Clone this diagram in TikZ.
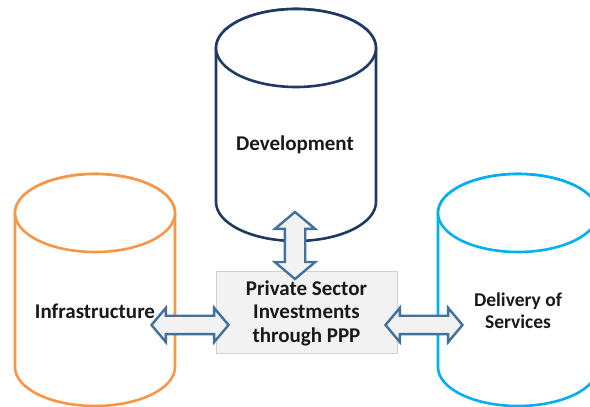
\documentclass[tikz,border=0pt]{standalone}
\usepackage{fontspec}
\setmainfont{Carlito}
\usetikzlibrary{calc,shapes.arrows}
\definecolor{devblue}{HTML}{1F3864}
\definecolor{infraorange}{HTML}{F79646}
\definecolor{servcyan}{HTML}{00B0F0}
\definecolor{arrowblue}{HTML}{41719C}
\definecolor{boxgray}{HTML}{F2F2F2}
\definecolor{boxline}{HTML}{D0D0D0}
\tikzset{
  drumline/.style={line width=2.6pt, fill=white},
  label/.style={font=\bfseries\fontsize{21}{23.5}\selectfont, text=black!90, align=center},
  blockarrow/.style={shape=double arrow, fill=boxgray, draw=arrowblue, line width=2.4pt,
    inner xsep=0pt, double arrow head indent=0pt, double arrow tip angle=100},
}
\newcommand{\drum}[4]{%
  \draw[drumline, draw=#4] (#1-80,#2) -- (#1-80,#3) arc[start angle=180, end angle=360, x radius=80, y radius=39]
     -- (#1+80,#2) arc[start angle=0, end angle=180, x radius=80, y radius=39] -- cycle;
  \draw[drumline, draw=#4] (#1,#2) ellipse [x radius=80, y radius=39];}
\begin{document}
\begin{tikzpicture}[x=1pt,y=1pt]
                      \useasboundingbox (0,0) rectangle (590,407);
                      \clip (0,0) rectangle (590,407);
                      \drum{296}{359}{205}{devblue}
                      \drum{95}{194}{40}{infraorange}
                      \drum{518}{194}{40}{servcyan}
                      \node[label] (dev) at (295,262) {Development};
                      \node[label] (infra) at (95,96) {Infrastructure};
                      \node[label, font=\bfseries\fontsize{19.5}{22}\selectfont] (serv) at (518,96) {Delivery of\\Services};
                      \node[label, fill=boxgray, draw=boxline, line width=1pt, minimum width=181pt, minimum height=82pt, inner sep=0pt]
                           (ppp) at (306.5,94) {Private Sector\\Investments\\through PPP};
                      \node[blockarrow, rotate=90, inner ysep=9pt, double arrow head extend=10pt, minimum height=67pt]
                           (uparrow) at ($(dev.center |- ppp.north)+(0,26)$) {};
                      \node[blockarrow, inner ysep=8pt, double arrow head extend=8pt, minimum height=77pt]
                           (leftarrow) at ($(ppp.west)+(-25.5,-12)$) {};
                      \node[blockarrow, inner ysep=8pt, double arrow head extend=8pt, minimum height=77pt]
                           (rightarrow) at ($(ppp.east)+(26.5,-12)$) {};
                  \end{tikzpicture}
\end{document}
